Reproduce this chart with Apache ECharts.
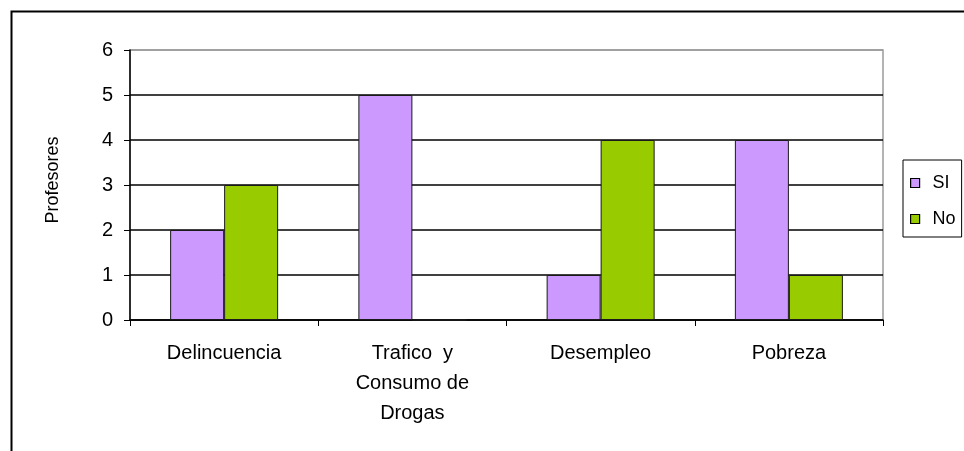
<!DOCTYPE html>
<html>
<head>
<meta charset="utf-8">
<script src="https://cdn.jsdelivr.net/npm/echarts@6/dist/echarts.min.js"></script>
<style>
html,body{margin:0;padding:0;background:#fff;}
#main{width:964px;height:451px;}
</style>
</head>
<body>
<div id="main"></div>
<script>
var categories = ['Delincuencia', 'Trafico  y\nConsumo de\nDrogas', 'Desempleo', 'Pobreza'];
var siValues = [2, 5, 1, 4];
var noValues = [3, 0, 4, 1];
var yTicks = [0, 1, 2, 3, 4, 5, 6];

var chart = echarts.init(document.getElementById('main'), null, {renderer: 'canvas'});
var font = 'Liberation Sans, Arial, sans-serif';
chart.setOption({
  animation: false,
  backgroundColor: '#fff',
  textStyle: {fontFamily: font},
  graphic: [{
    type: 'rect', left: 9, top: 9, silent: true, z: -1,
    shape: {width: 1000, height: 500},
    style: {fill: 'none', stroke: '#000', lineWidth: 2}
  }],
  grid: {left: 130, right: 81, top: 50, bottom: 131, show: true, borderColor: '#9a9a9a', borderWidth: 1.5, backgroundColor: '#fff'},
  legend: {
    orient: 'vertical', left: 903, top: 160,
    data: ['SI', 'No'],
    icon: 'rect',
    borderColor: '#000', borderWidth: 1,
    padding: [14, 6, 9, 7],
    itemGap: 18, itemWidth: 9, itemHeight: 9,
    itemStyle: {borderColor: '#000', borderWidth: 1.2},
    textStyle: {fontSize: 18, color: '#000', fontFamily: font, padding: [0, 0, 0, 8]}
  },
  xAxis: {
    type: 'category', data: categories,
    axisLine: {lineStyle: {color: '#000', width: 1.5}},
    axisTick: {show: true, length: 6, lineStyle: {color: '#000'}},
    axisLabel: {color: '#000', fontSize: 20, margin: 18, lineHeight: 30, fontFamily: font}
  },
  yAxis: {
    type: 'value', min: yTicks[0], max: yTicks[yTicks.length - 1], interval: 1,
    name: 'Profesores', nameLocation: 'middle', nameGap: 68, nameRotate: 90,
    nameTextStyle: {color: '#000', fontSize: 18, fontFamily: font, padding: [0, 0, 0, 10]},
    axisLine: {show: true, lineStyle: {color: '#000', width: 1.5}},
    axisTick: {show: true, length: 6, lineStyle: {color: '#000'}},
    axisLabel: {color: '#000', fontSize: 20, margin: 17, fontFamily: font},
    splitLine: {show: true, lineStyle: {color: ['#000', '#000', '#000', '#000', '#000', '#000', '#9a9a9a'], width: 1.5}}
  },
  series: [{
    name: 'SI', type: 'bar', data: siValues, barWidth: 54, barGap: '0%',
    itemStyle: {color: '#CC99FF', borderColor: '#1a1a1a', borderWidth: 1}
  }, {
    name: 'No', type: 'bar', data: noValues, barWidth: 54,
    itemStyle: {color: '#99CC00', borderColor: '#1a1a1a', borderWidth: 1}
  }]
});
</script>
</body>
</html>
